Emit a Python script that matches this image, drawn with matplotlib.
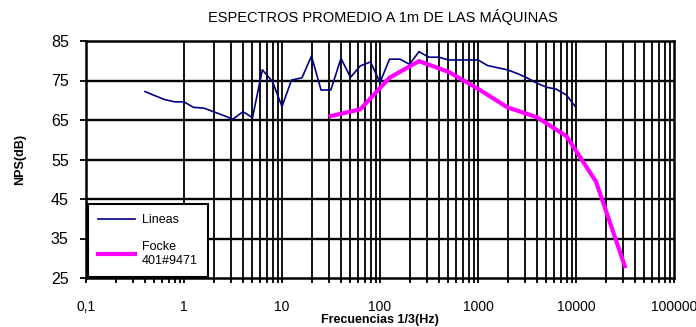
import matplotlib
matplotlib.use("agg")
import matplotlib.pyplot as plt

plt.rcParams["font.family"] = ["Liberation Sans", "DejaVu Sans"]

# third-octave frequencies (Hz) and levels (dB)
freq_lineas = [0.4, 0.5, 0.63, 0.8, 1, 1.25, 1.6, 2, 2.5, 3.15, 4, 5, 6.3, 8, 10,
               12.5, 16, 20, 25, 31.5, 40, 50, 63, 80, 100, 125, 160, 200, 250,
               315, 400, 500, 630, 800, 1000, 1250, 1600, 2000, 2500, 3150, 4000,
               5000, 6300, 8000, 10000]
nps_lineas = [72.2, 71.2, 70.2, 69.6, 69.6, 68.2, 68.0, 67.1, 66.2, 65.2, 67.1,
              65.6, 77.7, 74.7, 68.4, 75.1, 75.7, 81.2, 72.6, 72.6, 80.6, 75.8,
              78.7, 79.7, 74.5, 80.4, 80.4, 79.1, 82.3, 80.9, 80.9, 80.2, 80.2,
              80.2, 80.2, 78.8, 78.2, 77.7, 76.8, 75.7, 74.3, 73.3, 72.8, 71.3,
              68.2]

freq_focke = [31.5, 63, 125, 250, 500, 1000, 2000, 4000, 8000, 16000, 31500]
nps_focke = [66.0, 67.7, 75.7, 79.9, 77.2, 72.9, 68.2, 65.7, 60.9, 49.4, 28.0]

x_ticks = [0.1, 1, 10, 100, 1000, 10000, 100000]
x_ticklabels = ["0,1", "1", "10", "100", "1000", "10000", "100000"]
y_ticks = [25, 35, 45, 55, 65, 75, 85]

fig = plt.figure(figsize=(6.96, 3.27), dpi=100)
ax = fig.add_axes([86 / 696, 1 - 278 / 327, 588 / 696, 237 / 327])

ax.set_xscale("log")
ax.set_xlim(0.1, 100000)
ax.set_ylim(25, 85)

# gridlines: horizontal at every major y tick, vertical only from 1 Hz up
for y in y_ticks[1:-1]:
    ax.axhline(y, color="black", lw=1.7, zorder=1)
vgrid = [k * 10 ** d for d in range(0, 5) for k in range(1, 10)]
for v in vgrid:
    ax.axvline(v, color="black", lw=1.3, zorder=1)

ax.plot(freq_lineas, nps_lineas, color="#000080", lw=1.2, label="Lineas", zorder=3)
ax.plot(freq_focke, nps_focke, color="#ff00ff", lw=3.0, label="Focke\n401#9471",
        zorder=3)

ax.set_xticks(x_ticks)
ax.set_xticklabels(x_ticklabels, fontsize=10)
ax.set_yticks(y_ticks)
ax.set_yticklabels([str(y) for y in y_ticks], fontsize=11.5)
ax.tick_params(axis="x", which="major", length=3.5, width=1.3, pad=12)
ax.tick_params(axis="x", which="minor", length=3.5, width=1.3)
ax.tick_params(axis="y", length=4.5, width=1.3, pad=8)
for s in ax.spines.values():
    s.set_linewidth(1.8)
    s.set_zorder(4)

ax.set_xlabel("Frecuencias 1/3(Hz)", fontsize=9, fontweight="bold", labelpad=0)
ax.set_ylabel("NPS(dB)", fontsize=9, fontweight="bold", labelpad=18)
fig.text(383 / 696, 1 - 17 / 327, "ESPECTROS PROMEDIO A 1m DE LAS MÁQUINAS",
         ha="center", va="center", fontsize=10.5)

leg = ax.legend(loc="lower left", bbox_to_anchor=(0.003, 0.004), fontsize=9,
                frameon=True, fancybox=False, framealpha=1, edgecolor="black",
                handlelength=3.0, handletextpad=0.55, borderpad=0.8,
                labelspacing=1.2, borderaxespad=0)
leg.get_frame().set_linewidth(1.5)
leg.set_zorder(5)

fig.savefig("out.png", dpi=100)
